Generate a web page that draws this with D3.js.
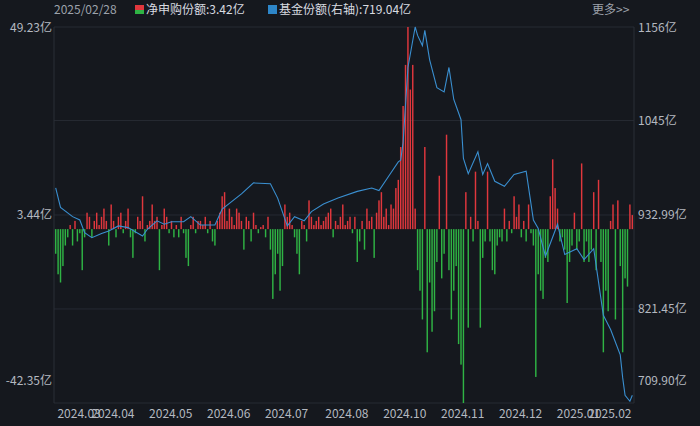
<!DOCTYPE html>
<html><head><meta charset="utf-8">
<script src="https://cdn.jsdelivr.net/npm/d3@7"></script>
<style>body{margin:0;background:#15181e;}svg{display:block;font-family:"Noto Sans CJK SC","Noto Sans",sans-serif;}</style>
</head><body><svg id="c" width="700" height="426"></svg>
<script>
const flows=[
-6,-11,-13,-9,-4,-2,1,-4,2,-3,
-1,-10,-2,4,3,-2,2,4,1,3,
5,2,-4,6,2,-2,3,4,-1,2,
5,-2,-7,-1,3,2,8,-3,1,2,
6,2,3,-10,1,5,3,-1,2,-2,
1,-2,3,-1,-7,-9,1,3,-1,2,
2,1,3,-1,2,-3,-4,2,4,8,
9,2,5,3,1,5,4,2,-5,3,
2,-3,4,1,-1,0.5,1,-2,3,-5,
-17,-11,-6,-15,-9,6,3,4,1,-2,
-6,-11,2,1,-3,7,3,1,2,3,
1,2,3,4,5,-2,2,1,3,6,
1,2,3,-1,3,-8,-3,2,-5,5,
2,3,-7,4,7,9,3,5,1,6,
5,10,12,20,30,40,49.23,34,40,5,
-10,-15,-22,20,-30,-13,-25,-20,-8,13,
-12,-6,23,-10,-22,-15,-9,-28,-33,-42.35,
9,-24,3,-3,14,2,-24,-7,-3,14,
-3,-10,-11,-4,-2,-3,5,-3,2,-1,
8,3,6,-2,2,-3,6,-1,-4,-36,
-11,-15,-17,-7,-8,8,17,10,5,-3,
-2,-5,-18,-8,-4,4,-5,-3,16,-8,
-3,-8,-5,9,-10,12,-8,-30,-15,-20,
2,6,-22,7,-9,-30,-12,-14,6,3.42];
const shareIdx=[0,2,7,10,12,15,19,22,26,30,36,38,42,45,48,53,56,60,66,69,77,82,89,92,96,99,103,106,111,117,125,131,134,138,142,143,144,146,149,150,152,153,155,158,161,163,165,168,169,171,175,177,179,182,186,190,195,198,200,203,208,211,216,219,223,227,230,234,235,236,238,239];
const shareVal=[965,942,931,927,912,906,911,914,920,918,908,916,926,922,925,925,931,921,921,940,958,971,970,953,920,931,926,937,946,953,961,965,962,979,996,998,1019,1108,1156,1146,1134,1152,1117,1084,1079,1108,1070,1046,1000,982,1008,981,994,973,967,981,985,927,917,884,922,886,893,880,893,814,797,767,740,719,712,719];
const xLabels=["2024.03","2024.04","2024.05","2024.06","2024.07","2024.08","2024.10","2024.11","2024.12","2025.01","2025.02"];
const xLabelIdx=[10,24,48,72,96,121,145,169,193,217,230];
const leftTicks=[49.23,3.44,-42.35], rightTicks=[1156,1045,932.99,821.45,709.90];
const rightLbl=["1156亿","1045亿","932.99亿","821.45亿","709.90亿"];

const svg=d3.select("#c");
const L=54,R=634,T=27,B=403;
const x=d3.scaleBand().domain(d3.range(flows.length)).range([L,R]).padding(0.4);
const yL=d3.scaleLinear().domain([-42.35,49.23]).range([B,T]);
const yR=d3.scaleLinear().domain([709.9,1156]).range([B,T]);
svg.append("g").selectAll("line").data(rightTicks).join("line")
 .attr("x1",L).attr("x2",R).attr("y1",d=>yR(d)).attr("y2",d=>yR(d)).attr("stroke","#262a33");
svg.append("g").selectAll("line").data([L,R]).join("line")
 .attr("x1",d=>d).attr("x2",d=>d).attr("y1",T).attr("y2",B).attr("stroke","#2a2e37");
svg.append("g").selectAll("rect").data(flows).join("rect")
 .attr("x",(d,i)=>x(i)).attr("width",x.bandwidth())
 .attr("y",d=>yL(Math.max(0,d))).attr("height",d=>Math.abs(yL(d)-yL(0)))
 .attr("fill",d=>d>=0?"#e0373d":"#2fb344");
const pts=shareIdx.map((k,j)=>[x(k)+x.bandwidth()/2,yR(shareVal[j])]);
svg.append("path").attr("d",d3.line()(pts)).attr("fill","none").attr("stroke","#3a8fd0").attr("stroke-width",1.1);
leftTicks.forEach((v,i)=>{
 const yy=i==0?T+1:(i==2?B-22:yL(v));
 svg.append("text").attr("x",52).attr("y",yy).attr("dy","0.35em").attr("text-anchor","end").attr("fill","#b4b8c0").attr("font-size",12).text(v.toFixed(2)+"亿");
});
rightTicks.forEach((v,i)=>{
 const yy=i==0?T+1:(i==4?B-22:yR(v));
 svg.append("text").attr("x",638).attr("y",yy).attr("dy","0.35em").attr("fill","#b4b8c0").attr("font-size",12).text(rightLbl[i]);
});
xLabelIdx.forEach((k,i)=>{
 svg.append("text").attr("x",x(k)).attr("y",418).attr("text-anchor","middle").attr("fill","#b4b8c0").attr("font-size",12).text(xLabels[i]);
});
svg.append("text").attr("x",54).attr("y",14).attr("fill","#9da2ab").attr("font-size",12).text("2025/02/28");
svg.append("rect").attr("x",135).attr("y",5).attr("width",9).attr("height",5).attr("fill","#e0373d");
svg.append("rect").attr("x",135).attr("y",10).attr("width",9).attr("height",4).attr("fill","#2fb344");
svg.append("text").attr("x",146).attr("y",14).attr("fill","#d8dbe0").attr("font-size",12).text("净申购份额:3.42亿");
svg.append("rect").attr("x",268).attr("y",5).attr("width",9).attr("height",9).attr("fill","#2d86c9");
svg.append("text").attr("x",279).attr("y",14).attr("fill","#d8dbe0").attr("font-size",12).text("基金份额(右轴):719.04亿");
svg.append("text").attr("x",592).attr("y",14).attr("fill","#9da2ab").attr("font-size",12).text("更多>>");
</script></body></html>
